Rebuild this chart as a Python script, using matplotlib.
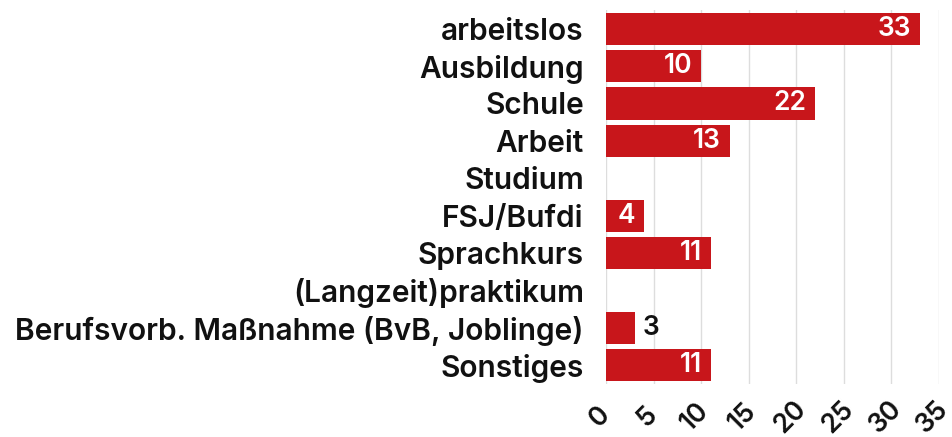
import matplotlib
matplotlib.use("Agg")
import matplotlib.pyplot as plt
import matplotlib.transforms as mtransforms

categories = ["arbeitslos", "Ausbildung", "Schule", "Arbeit", "Studium", "FSJ/Bufdi",
              "Sprachkurs", "(Langzeit)praktikum", "Berufsvorb. Maßnahme (BvB, Joblinge)", "Sonstiges"]
values = [33, 10, 22, 13, 0, 4, 11, 0, 3, 11]
xticks = [0, 5, 10, 15, 20, 25, 30, 35]

plt.rcParams['font.family'] = ['Inter', 'DejaVu Sans']

fig = plt.figure(figsize=(9.53, 4.37), dpi=100)
ax = fig.add_axes([606/953, 1-384/437, (939-606)/953, (384-10)/437])

color = "#C8161B"
y = list(range(len(categories)))
ax.barh(y, values, height=0.86, color=color, zorder=3)

for yi, v in zip(y, values):
    if v == 0:
        continue
    if v >= 4:
        ax.text(v - 0.9, yi, str(v), ha="right", va="center", color="white",
                fontsize=19, fontweight="semibold", zorder=4)
    else:
        ax.text(v + 0.9, yi, str(v), ha="left", va="center", color="#111111",
                fontsize=19, fontweight="semibold", zorder=4)

ax.set_ylim(len(categories) - 0.5, -0.5)
ax.set_xlim(0, 35)
ax.set_yticks(y)
ax.set_yticklabels(categories, fontsize=21.5, fontweight="semibold", color="#111111")
ax.set_xticks(xticks)
ax.set_xticklabels([])
offset = mtransforms.ScaledTranslation(-6/100, -33/100, fig.dpi_scale_trans)
tr = ax.get_xaxis_transform() + offset
for t in xticks:
    ax.text(t, 0, str(t), transform=tr, fontsize=19, fontweight="semibold",
            rotation=45, ha="center", va="center", rotation_mode="anchor",
            color="#111111", clip_on=False)
ax.tick_params(axis="both", length=0)
ax.tick_params(axis="y", pad=16)
ax.grid(axis="x", color="#dddddd", linewidth=1, zorder=0)
for s in ax.spines.values():
    s.set_visible(False)

fig.savefig("out.png", dpi=100, facecolor="white")
